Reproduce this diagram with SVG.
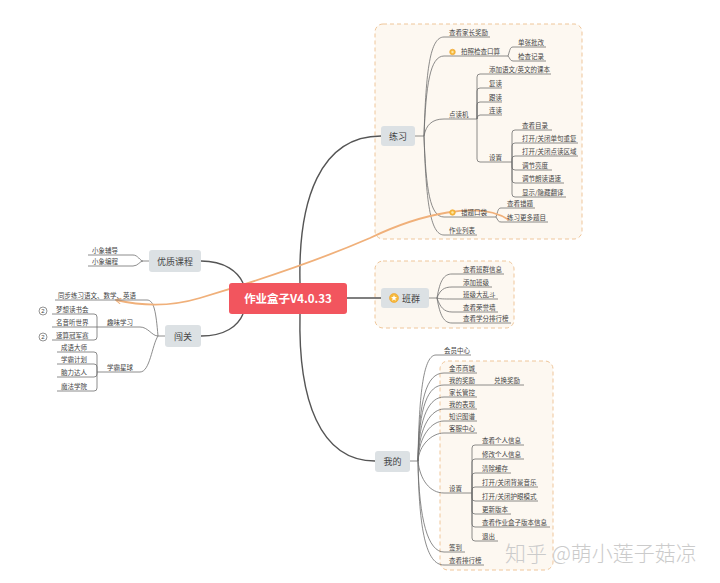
<svg xmlns="http://www.w3.org/2000/svg" width="720" height="583" viewBox="0 0 720 583">
<defs>
<style>
.t{font-family:"Noto Sans CJK SC","Noto Sans",sans-serif;font-size:6.5px;fill:#444}
.n{font-family:"Noto Sans CJK SC","Noto Sans",sans-serif;font-size:9px;fill:#444;text-anchor:middle}
.u{stroke:#6e6e6e;stroke-width:0.8;fill:none}
.c{stroke:#6e6e6e;stroke-width:0.8;fill:none}
.m{stroke:#555;stroke-width:1.4;fill:none}
.box{fill:#DCE1E4}
.sec{fill:#FDF8F1;stroke:#EFC69A;stroke-width:1;stroke-dasharray:4 3}
.ic{fill:#F6B93B;stroke:#EFA12C;stroke-width:0.6}
.num{fill:#fff;stroke:#666;stroke-width:0.7}
.nt{font-family:"Liberation Sans",sans-serif;font-size:6px;fill:#444;text-anchor:middle}
</style>
<marker id="arr" viewBox="0 0 10 10" refX="8" refY="5" markerWidth="7" markerHeight="7" orient="auto" markerUnits="userSpaceOnUse">
<path d="M1 1 L9 5 L1 9" fill="none" stroke="#F0B07A" stroke-width="1.6"/>
</marker>
</defs>
<rect width="720" height="583" fill="#fff"/>

<!-- section backgrounds -->
<rect class="sec" x="375" y="24" width="207" height="215" rx="8"/>
<rect class="sec" x="375" y="261" width="139" height="67" rx="8"/>
<rect class="sec" x="440" y="361" width="113" height="209" rx="8"/>

<!-- watermark -->
<text x="505" y="561" font-family="Noto Sans CJK SC,sans-serif" font-size="21" font-weight="300" fill="#CBCBCB">知乎 @萌小莲子菇凉</text>

<g id="connectors">
<!-- main trunks -->
<path class="m" d="M300 283 C298 200 320 136 381 136"/>
<path class="m" d="M300 314 C298 400 320 461 375 461"/>
<path class="m" d="M347 298 H381"/>
<path class="m" d="M243 283 C238 272 225 261 201 261"/>
<path class="m" d="M243 314 C238 326 225 336 201 336"/>
<!-- practice -->
<path class="c" d="M415 136 H424"/>
<path class="c" d="M424 136 C426 70 430 37 444 37"/>
<path class="c" d="M424 136 C426 85 430 56 444 56"/>
<path class="c" d="M424 136 C426 125 432 119 444 119"/>
<path class="c" d="M424 136 C426 190 430 217 444 217"/>
<path class="c" d="M424 136 C426 200 430 235 444 235"/>
<path class="c" d="M508 56 C510 50 510 47 513 47"/>
<path class="c" d="M508 56 C510 58 510 61 513 61"/>
<path class="c" d="M477 119 V77 Q477 74 480 74"/>
<path class="c" d="M477 119 V91 Q477 88 480 88"/>
<path class="c" d="M477 119 V105 Q477 102 480 102"/>
<path class="c" d="M477 119 Q477 115 480 115"/>
<path class="c" d="M477 119 V159 Q477 162 480 162"/>
<path class="c" d="M512 162 V133 Q512 130 515 130"/>
<path class="c" d="M512 162 V146 Q512 143 515 143"/>
<path class="c" d="M512 162 V159 Q512 156 515 156"/>
<path class="c" d="M512 162 V167 Q512 170 515 170"/>
<path class="c" d="M512 162 V180 Q512 183 515 183"/>
<path class="c" d="M512 162 V194 Q512 197 515 197"/>
<path class="c" d="M496 217 C498 211 498 208 501 208"/>
<path class="c" d="M496 217 C498 220 498 222 501 222"/>
<!-- class -->
<path class="c" d="M429 298 H437"/>
<path class="c" d="M437 298 C440 280 444 274 452 274"/>
<path class="c" d="M437 298 C440 290 444 287 452 287"/>
<path class="c" d="M437 298 C440 299 444 299 452 299"/>
<path class="c" d="M437 298 C440 307 444 312 452 312"/>
<path class="c" d="M437 298 C440 316 444 323 452 323"/>
<!-- mine -->
<path class="c" d="M410 461 H418"/>
<path class="c" d="M418 461 C419 390 424 355 436 355"/>
<path class="c" d="M418 461 C419 400 426 373 444 373"/>
<path class="c" d="M418 461 C419 405 428 385 444 385"/>
<path class="c" d="M418 461 C419 415 430 397 444 397"/>
<path class="c" d="M418 461 C419 425 432 409 444 409"/>
<path class="c" d="M418 461 C419 435 432 421 444 421"/>
<path class="c" d="M418 461 C419 445 432 433 444 433"/>
<path class="c" d="M418 461 C420 480 430 493 444 493"/>
<path class="c" d="M418 461 C419 520 428 552 444 552"/>
<path class="c" d="M418 461 C419 530 426 565 444 565"/>
<path class="c" d="M472 493 V448 Q472 445 475 445"/>
<path class="c" d="M472 493 V462 Q472 459 475 459"/>
<path class="c" d="M472 493 V476 Q472 473 475 473"/>
<path class="c" d="M472 493 V490 Q472 487 475 487"/>
<path class="c" d="M472 493 V498 Q472 501 475 501"/>
<path class="c" d="M472 493 V511 Q472 514 475 514"/>
<path class="c" d="M472 493 V524 Q472 527 475 527"/>
<path class="c" d="M472 493 V538 Q472 541 475 541"/>
<!-- left -->
<path class="c" d="M149 261 H143 C140 261 138 255 133 255"/>
<path class="c" d="M143 261 C140 261 138 266 133 266"/>
<path class="c" d="M165 336 H158"/>
<path class="c" d="M158 336 C156 312 154 300 147 300"/>
<path class="c" d="M158 336 C152 336 148 327 140 327"/>
<path class="c" d="M158 336 C152 345 150 372 140 372"/>
<path class="c" d="M97 327 V317 Q97 314 94 314"/>
<path class="c" d="M97 327 H93"/>
<path class="c" d="M97 327 V337 Q97 340 94 340"/>
<path class="c" d="M97 372 V355 Q97 352 94 352"/>
<path class="c" d="M97 372 V367 Q97 364 94 364"/>
<path class="c" d="M97 372 V374 Q97 377 94 377"/>
<path class="c" d="M97 372 V388 Q97 391 94 391"/>
<!-- relation curve -->
<path d="M509 220 C480 200 420 214 370 238 C310 264 250 283 200 298 C170 307 142 306 116 300" fill="none" stroke="#F0B07A" stroke-width="1.8" marker-end="url(#arr)"/>
</g>

<!-- center -->
<g id="root">
<rect x="229" y="283" width="118" height="31" rx="3" fill="#F2555E"/>
<text x="288" y="302.5" font-family="Noto Sans CJK SC,Liberation Sans,sans-serif" font-size="11.5" font-weight="bold" fill="#fff" text-anchor="middle">作业盒子V4.0.33</text>
</g>

<!-- main nodes -->
<g id="lianxi"><rect class="box" x="381" y="126" width="34" height="20" rx="3"/><text class="n" x="398" y="139.5">练习</text></g>
<g id="banqun"><rect class="box" x="381" y="288" width="48" height="20" rx="3"/>
<circle cx="394" cy="298" r="4.5" fill="#F6B93B" stroke="#EFA12C" stroke-width="0.6"/>
<polygon points="394,295 394.8,297.1 397,297.2 395.3,298.6 395.9,300.8 394,299.6 392.1,300.8 392.7,298.6 391,297.2 393.2,297.1" fill="#fff"/>
<text class="n" x="411" y="301.5">班群</text></g>
<g id="wode"><rect class="box" x="375" y="451" width="35" height="21" rx="3"/><text class="n" x="392.5" y="464.5">我的</text></g>
<g id="youzhi"><rect class="box" x="149" y="250" width="52" height="22" rx="3"/><text class="n" x="175" y="264.5">优质课程</text></g>
<g id="chuangguan"><rect class="box" x="165" y="325" width="36" height="22" rx="3"/><text class="n" x="183" y="339.5">闯关</text></g>

<!-- practice leaves -->
<g id="p1"><path class="u" d="M444 37 H490"/><text class="t" x="449" y="35">查看家长奖励</text></g>
<g id="p2"><path class="u" d="M444 56 H508"/><circle class="ic" cx="452.5" cy="52" r="2.8"/><circle cx="452.5" cy="52" r="1.2" fill="#FCE6A8"/><text class="t" x="461" y="54">拍照检查口算</text></g>
<g id="p2a"><path class="u" d="M513 47 H546"/><text class="t" x="518" y="45">单张批改</text></g>
<g id="p2b"><path class="u" d="M513 61 H546"/><text class="t" x="518" y="59">检查记录</text></g>
<g id="p3"><path class="u" d="M444 119 H477"/><text class="t" x="449" y="117">点读机</text></g>
<g id="p3a"><path class="u" d="M480 74 H551"/><text class="t" x="489" y="72">添加语文/英文的课本</text></g>
<g id="p3b"><path class="u" d="M480 88 H502"/><text class="t" x="489" y="86">复读</text></g>
<g id="p3c"><path class="u" d="M480 102 H502"/><text class="t" x="489" y="100">跟读</text></g>
<g id="p3d"><path class="u" d="M480 115 H502"/><text class="t" x="489" y="113">连读</text></g>
<g id="p3e"><path class="u" d="M480 162 H512"/><text class="t" x="489" y="160">设置</text></g>
<g id="s1"><path class="u" d="M515 130 H552"/><text class="t" x="522" y="128">查看目录</text></g>
<g id="s2"><path class="u" d="M515 143 H578"/><text class="t" x="522" y="141">打开/关闭单句重复</text></g>
<g id="s3"><path class="u" d="M515 156 H578"/><text class="t" x="522" y="154">打开/关闭点读区域</text></g>
<g id="s4"><path class="u" d="M515 170 H552"/><text class="t" x="522" y="168">调节亮度</text></g>
<g id="s5"><path class="u" d="M515 183 H564"/><text class="t" x="522" y="181">调节朗读语速</text></g>
<g id="s6"><path class="u" d="M515 197 H566"/><text class="t" x="522" y="195">显示/隐藏翻译</text></g>
<g id="p4"><path class="u" d="M444 217 H496"/><circle class="ic" cx="452.5" cy="212.5" r="2.8"/><circle cx="452.5" cy="212.5" r="1.2" fill="#FCE6A8"/><text class="t" x="461" y="215">错题口袋</text></g>
<g id="p4a"><path class="u" d="M501 208 H535"/><text class="t" x="507" y="206">查看错题</text></g>
<g id="p4b"><path class="u" d="M501 222 H548"/><text class="t" x="507" y="220">练习更多题目</text></g>
<g id="p5"><path class="u" d="M444 235 H477"/><text class="t" x="449" y="233">作业列表</text></g>

<!-- class leaves -->
<g id="b1"><path class="u" d="M452 274 H504"/><text class="t" x="463" y="272">查看班群信息</text></g>
<g id="b2"><path class="u" d="M452 287 H492"/><text class="t" x="463" y="285">添加班级</text></g>
<g id="b3"><path class="u" d="M452 299 H498"/><text class="t" x="463" y="297">班级大乱斗</text></g>
<g id="b4"><path class="u" d="M452 312 H498"/><text class="t" x="463" y="310">查看荣誉墙</text></g>
<g id="b5"><path class="u" d="M452 323 H511"/><text class="t" x="463" y="321">查看学分排行榜</text></g>

<!-- mine leaves -->
<g id="m1"><path class="u" d="M436 355 H471"/><text class="t" x="444" y="353">会员中心</text></g>
<g id="m2"><path class="u" d="M444 373 H477"/><text class="t" x="449" y="371">金币商城</text></g>
<g id="m3"><path class="u" d="M444 385 H490"/><text class="t" x="449" y="383">我的奖励</text></g>
<g id="m3a"><path class="u" d="M490 385 H524"/><text class="t" x="494" y="383">兑换奖励</text></g>
<g id="m4"><path class="u" d="M444 397 H477"/><text class="t" x="449" y="395">家长管控</text></g>
<g id="m5"><path class="u" d="M444 409 H477"/><text class="t" x="449" y="407">我的表现</text></g>
<g id="m6"><path class="u" d="M444 421 H477"/><text class="t" x="449" y="419">知识图谱</text></g>
<g id="m7"><path class="u" d="M444 433 H477"/><text class="t" x="449" y="431">客服中心</text></g>
<g id="m8"><path class="u" d="M444 493 H472"/><text class="t" x="449" y="491">设置</text></g>
<g id="ms1"><path class="u" d="M475 445 H524"/><text class="t" x="482" y="443">查看个人信息</text></g>
<g id="ms2"><path class="u" d="M475 459 H524"/><text class="t" x="482" y="457">修改个人信息</text></g>
<g id="ms3"><path class="u" d="M475 473 H511"/><text class="t" x="482" y="471">清除缓存</text></g>
<g id="ms4"><path class="u" d="M475 487 H538"/><text class="t" x="482" y="485">打开/关闭背景音乐</text></g>
<g id="ms5"><path class="u" d="M475 501 H538"/><text class="t" x="482" y="499">打开/关闭护眼模式</text></g>
<g id="ms6"><path class="u" d="M475 514 H511"/><text class="t" x="482" y="512">更新版本</text></g>
<g id="ms7"><path class="u" d="M475 527 H550"/><text class="t" x="482" y="525">查看作业盒子版本信息</text></g>
<g id="ms8"><path class="u" d="M475 541 H498"/><text class="t" x="482" y="539">退出</text></g>
<g id="m9"><path class="u" d="M444 552 H465"/><text class="t" x="449" y="550">签到</text></g>
<g id="m10"><path class="u" d="M444 565 H484"/><text class="t" x="449" y="563">查看排行榜</text></g>

<!-- left leaves -->
<g id="y1"><path class="u" d="M88 255 H133"/><text class="t" x="92" y="253">小象辅导</text></g>
<g id="y2"><path class="u" d="M88 266 H133"/><text class="t" x="92" y="264">小象编程</text></g>
<g id="c1"><path class="u" d="M55 300 H147"/><text class="t" x="58" y="298">同步练习语文、数学、英语</text></g>
<g id="c2"><path class="u" d="M97 327 H140"/><text class="t" x="107" y="325">趣味学习</text></g>
<g id="c2a"><path class="u" d="M52 314 H94"/><circle class="num" cx="43" cy="311" r="4"/><text class="nt" x="43" y="313.2">2</text><text class="t" x="56" y="312">梦想读书会</text></g>
<g id="c2b"><path class="u" d="M52 327 H93"/><text class="t" x="56" y="325">名音听世界</text></g>
<g id="c2c"><path class="u" d="M52 340 H94"/><circle class="num" cx="43" cy="337" r="4"/><text class="nt" x="43" y="339.2">2</text><text class="t" x="56" y="338">速算冠军赛</text></g>
<g id="c3"><path class="u" d="M97 372 H140"/><text class="t" x="107" y="370">学霸星球</text></g>
<g id="c3a"><path class="u" d="M57 352 H94"/><text class="t" x="61" y="350">成语大师</text></g>
<g id="c3b"><path class="u" d="M57 364 H94"/><text class="t" x="61" y="362">学霸计划</text></g>
<g id="c3c"><path class="u" d="M57 377 H94"/><text class="t" x="61" y="375">脑力达人</text></g>
<g id="c3d"><path class="u" d="M57 391 H94"/><text class="t" x="61" y="389">魔法学院</text></g>
</svg>
